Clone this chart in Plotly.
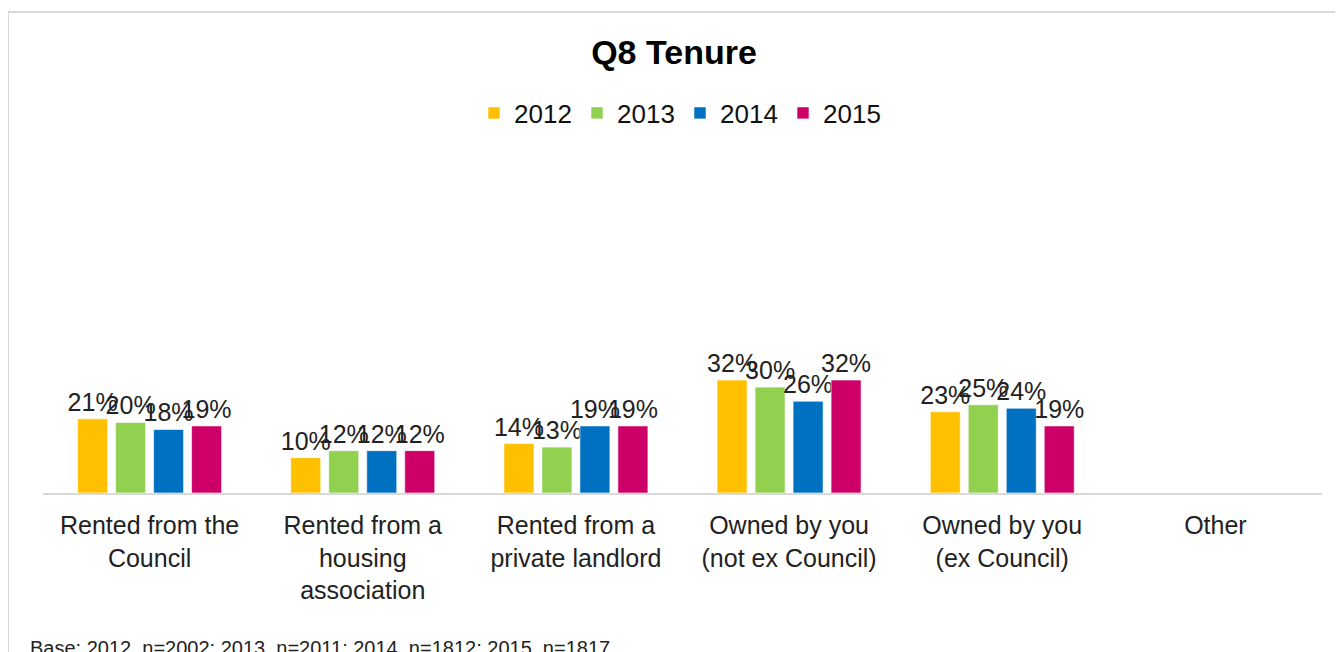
import plotly.graph_objects as go

categories = [
    "Rented from the<br>Council",
    "Rented from a<br>housing<br>association",
    "Rented from a<br>private landlord",
    "Owned by you<br>(not ex Council)",
    "Owned by you<br>(ex Council)",
    "Other",
]
years = ["2012", "2013", "2014", "2015"]
v2012 = [21, 10, 14, 32, 23, None]
v2013 = [20, 12, 13, 30, 25, None]
v2014 = [18, 12, 19, 26, 24, None]
v2015 = [19, 12, 19, 32, 19, None]
colors = ["#FFC000", "#92D050", "#0070C0", "#CC0066"]
footnote = "Base: 2012, n=2002; 2013, n=2011; 2014, n=1812; 2015, n=1817"

FONT = "Liberation Sans, Arial, sans-serif"

# page body has an 8px margin, so figure pixel = target pixel - 8
OFF = 8
W, H = 1343 - OFF, 652 - OFF
PL, PR, PT, PB = 43 - OFF, 1322 - OFF, 140 - OFF, 493 - OFF
PW, PH = PR - PL, PB - PT


def px_x(x):
    return (x - OFF - PL) / PW


def px_y(y):
    return (PB - (y - OFF)) / PH


fig = go.Figure()
for name, vals, col in zip(years, [v2012, v2013, v2014, v2015], colors):
    fig.add_trace(go.Bar(
        name=name,
        x=categories,
        y=vals,
        marker=dict(color=col, line=dict(color="rgba(255,255,255,0.6)", width=1)),
        text=[f"{v}%" if v is not None else "" for v in vals],
        textposition="outside",
        textfont=dict(family=FONT, size=25, color="#222222"),
        constraintext="none",
        cliponaxis=False,
    ))

fig.update_layout(
    width=W,
    height=H,
    margin=dict(l=PL, r=W - PR, t=PT, b=H - PB),
    paper_bgcolor="white",
    plot_bgcolor="white",
    barmode="group",
    bargap=0.287,
    bargroupgap=0.21,
    title=dict(
        text="<b>Q8 Tenure</b>",
        x=px_x(674), xref="paper", xanchor="center",
        y=1 - (52 - OFF) / H, yref="container", yanchor="middle",
        font=dict(family=FONT, size=34, color="#000000"),
    ),
    legend=dict(
        orientation="h",
        x=px_x(680), xanchor="center",
        y=px_y(113), yanchor="middle",
        font=dict(family=FONT, size=26, color="#111111"),
        itemwidth=30,
        entrywidth=58,
        traceorder="normal",
    ),
    xaxis=dict(
        showline=True, linecolor="#d9d9d9", linewidth=2,
        ticks="", showgrid=False,
        tickfont=dict(family=FONT, size=25, color="#222222"),
        ticklabelstandoff=9,
        fixedrange=True,
    ),
    yaxis=dict(
        range=[0, 100], visible=False, showgrid=False, zeroline=False,
        fixedrange=True,
    ),
    showlegend=True,
)

fig.add_shape(
    type="rect", xref="paper", yref="paper",
    x0=px_x(8), x1=px_x(1339),
    y0=-1.0, y1=px_y(12),
    line=dict(color="#d9d9d9", width=2), fillcolor="rgba(0,0,0,0)",
    layer="below",
)

fig.add_annotation(
    text=footnote, xref="paper", yref="paper",
    x=px_x(28), xanchor="left",
    y=px_y(648), yanchor="middle",
    showarrow=False,
    font=dict(family=FONT, size=20, color="#222222"),
)

fig.write_html("out.html")
